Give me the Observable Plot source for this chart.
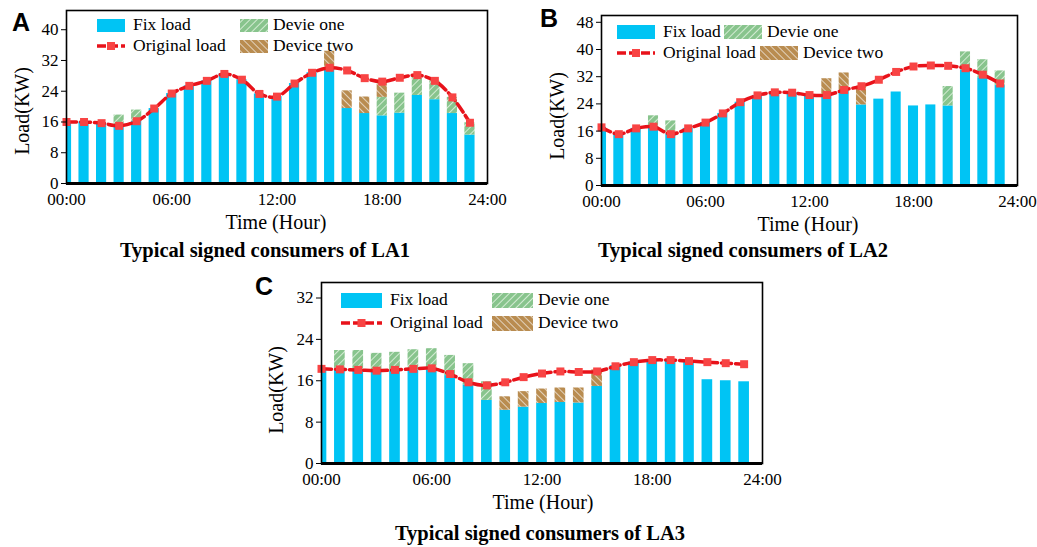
<!DOCTYPE html>
<html><head><meta charset="utf-8">
<script src="https://cdn.jsdelivr.net/npm/d3@7"></script>
<script src="https://cdn.jsdelivr.net/npm/@observablehq/plot@0.6"></script>
<style>
body{margin:0;background:#fff;}
#root{position:relative;width:1037px;height:547px;font-family:"Liberation Serif","Times New Roman",serif;color:#000;overflow:hidden;}
.abs{position:absolute;white-space:nowrap;line-height:1;}
.letter{font-family:"Liberation Sans",Arial,sans-serif;font-weight:bold;font-size:25px;}
.title{font-weight:bold;font-size:20.5px;transform:translate(-50%,-50%);}
.axlab{font-size:20px;transform:translate(-50%,-50%);}
.ylab{font-size:20px;transform:translate(-50%,-50%) rotate(-90deg);}
.legtext{font-size:17.5px;transform:translateY(-50%);}
.plot{position:absolute;overflow:visible;}
</style></head><body>
<svg width="0" height="0" style="position:absolute">
<defs>
<pattern id="hatchGreen" patternUnits="userSpaceOnUse" width="5" height="5" patternTransform="rotate(45)">
<rect width="5" height="5" fill="#88c48d"/>
<line x1="2.5" y1="0" x2="2.5" y2="5" stroke="#d4ecd4" stroke-width="1"/>
</pattern>
<pattern id="hatchBrown" patternUnits="userSpaceOnUse" width="5" height="5" patternTransform="rotate(-45)">
<rect width="5" height="5" fill="#b98c50"/>
<line x1="2.5" y1="0" x2="2.5" y2="5" stroke="#e2d2bc" stroke-width="1"/>
</pattern>
</defs>
</svg>
<div id="root"></div>
<script>
// ---------- data ----------
const hours = [0,1,2,3,4,5,6,7,8,9,10,11,12,13,14,15,16,17,18,19,20,21,22,23];
const xTickValues = [0,6,12,18,24];
const xTickLabels = ["00:00","06:00","12:00","18:00","24:00"];

// LA1
const fixA  = [16.0,16.0,15.7,15.0,16.2,19.5,23.4,25.4,26.7,28.5,27.0,23.3,22.6,26.0,28.8,30.0,19.5,18.2,17.6,18.3,22.9,21.8,18.2,12.6];
const dev1A = [0,0,0,2.8,2.9,0,0,0,0,0,0,0,0,0,0,0,0,0,4.8,5.2,5.3,4.9,4.2,3.2];
const dev2A = [0,0,0,0,0,0,0,0,0,0,0,0,0,0,0,4.4,4.6,4.3,4.1,0,0,0,0,0];
const origA = [16.0,16.0,15.7,15.0,16.2,19.5,23.4,25.4,26.7,28.5,27.0,23.3,22.6,26.0,28.8,30.1,29.4,27.4,26.5,27.5,28.2,26.7,22.4,15.8];
const yTicksA = [0,8,16,24,32,40];

// LA2
const fixB  = [17.1,15.1,16.8,17.3,15.1,16.8,18.5,21.2,24.5,26.5,27.4,27.3,26.6,26.4,27.9,23.7,25.4,27.5,23.4,23.7,23.4,34.0,31.7,29.4];
const dev1B = [0,0,0,3.2,3.9,0,0,0,0,0,0,0,0,0,0,0,0,0,0,0,5.7,5.3,5.3,4.3];
const dev2B = [0,0,0,0,0,0,0,0,0,0,0,0,0,5.0,5.2,5.5,0,0,0,0,0,0,0,0];
const origB = [17.1,15.1,16.8,17.3,15.1,16.8,18.5,21.2,24.5,26.5,27.4,27.3,26.6,26.6,28.1,29.2,31.1,33.4,35.0,35.3,35.2,34.5,32.6,30.0];
const yTicksB = [0,8,16,24,32,40,48];

// LA3
const fixC  = [18.3,18.0,18.0,17.7,17.9,18.1,18.1,17.0,15.2,12.2,10.3,10.9,11.6,11.8,11.7,14.9,18.9,19.6,20.1,20.0,19.8,16.2,16.0,15.8];
const dev1C = [0,3.85,3.85,3.6,3.6,3.9,4.1,3.9,4.1,3.6,0,0,0,0,0,0,0,0,0,0,0,0,0,0];
const dev2C = [0,0,0,0,0,0,0,0,0,0,2.6,3.0,2.8,2.8,2.9,3.2,0,0,0,0,0,0,0,0];
const origC = [18.3,18.2,18.1,17.95,18.1,18.3,18.4,17.3,15.7,15.1,15.7,16.7,17.4,17.8,17.7,17.8,18.8,19.6,20.0,20.0,19.8,19.6,19.4,19.2];
const yTicksC = [0,8,16,24,32];

const legendLabels = ["Fix load","Original load","Devie one","Device two"];
const titles = ["Typical signed consumers of LA1","Typical signed consumers of LA2","Typical signed consumers of LA3"];

// ---------- style ----------
const CYAN = "#00c4f4", RED = "#e8121a", MARK = "#f84444";
const root = document.getElementById("root");

function addText(cls, text, left, top) {
  const d = document.createElement("div");
  d.className = "abs " + cls;
  d.textContent = text;
  d.style.left = left + "px";
  d.style.top = top + "px";
  root.appendChild(d);
  return d;
}
function addSwatch(left, top, w, h, fill) {
  const s = document.createElementNS("http://www.w3.org/2000/svg","svg");
  s.setAttribute("width", w); s.setAttribute("height", h);
  s.style.position = "absolute"; s.style.left = left + "px"; s.style.top = top + "px";
  s.innerHTML = `<rect width="${w}" height="${h}" fill="${fill}"/>`;
  root.appendChild(s);
}
function addLineSwatch(left, cy, w) {
  const s = document.createElementNS("http://www.w3.org/2000/svg","svg");
  s.setAttribute("width", w); s.setAttribute("height", 12);
  s.style.position = "absolute"; s.style.left = left + "px"; s.style.top = (cy - 6) + "px";
  s.innerHTML = `<line x1="0" y1="6" x2="${w}" y2="6" stroke="${RED}" stroke-width="3.5" stroke-dasharray="9,3"/>` +
    `<rect x="${w/2-4}" y="2" width="8" height="8" fill="${MARK}"/>`;
  root.appendChild(s);
}

function panel(cfg) {
  const rows = hours.map((h, i) => ({h, fix: cfg.fix[i], d1: cfg.d1[i], d2: cfg.d2[i], orig: cfg.orig[i]}));
  const hw = 0.29;
  const svg = Plot.plot({
    width: cfg.width, height: cfg.height,
    marginLeft: cfg.ml, marginRight: cfg.mr, marginTop: cfg.mt, marginBottom: cfg.mb,
    style: {fontFamily: '"Liberation Serif","Times New Roman",serif', fontSize: "17px", color: "#000", background: "transparent", overflow: "visible"},
    x: {domain: [0, 24]},
    y: {domain: [0, cfg.ymax]},
    marks: [
      Plot.rect(rows, {x1: d => d.h - hw, x2: d => d.h + hw, y1: 0, y2: "fix", fill: CYAN, clip: true}),
      Plot.rect(rows.filter(d => d.d1 > 0), {x1: d => d.h - hw, x2: d => d.h + hw, y1: "fix", y2: d => d.fix + d.d1, fill: "url(#hatchGreen)", clip: true}),
      Plot.rect(rows.filter(d => d.d2 > 0), {x1: d => d.h - hw, x2: d => d.h + hw, y1: d => d.fix + d.d1, y2: d => d.fix + d.d1 + d.d2, fill: "url(#hatchBrown)", clip: true}),
      Plot.line(rows, {x: "h", y: "orig", stroke: RED, strokeWidth: 3.5, strokeDasharray: "10,4", curve: "catmull-rom"}),
      Plot.dot(rows, {x: "h", y: "orig", symbol: "square", r: 4.5, fill: MARK, stroke: "none"}),
      Plot.frame({stroke: "#000", strokeWidth: 1.6}),
      Plot.ruleY([0], {stroke: "#000", strokeWidth: 3}),
      Plot.axisY({ticks: cfg.yticks, tickSize: 5, tickPadding: 3, label: null, fontSize: 17}),
      Plot.axisX({ticks: xTickValues, tickFormat: d => xTickLabels[xTickValues.indexOf(d)], tickSize: 0, tickPadding: 9, label: null, fontSize: 17})
    ]
  });
  svg.classList.add("plot");
  svg.style.left = cfg.left + "px";
  svg.style.top = cfg.top + "px";
  root.appendChild(svg);
}

// Panel A
panel({fix: fixA, d1: dev1A, d2: dev2A, orig: origA, ymax: 45, yticks: yTicksA,
  left: 0, top: 0, width: 500, height: 240, ml: 66, mr: 13, mt: 10, mb: 57});
// Panel B
panel({fix: fixB, d1: dev1B, d2: dev2B, orig: origB, ymax: 50, yticks: yTicksB,
  left: 540, top: 0, width: 497, height: 240, ml: 61, mr: 20, mt: 15, mb: 55});
// Panel C
panel({fix: fixC, d1: dev1C, d2: dev2C, orig: origC, ymax: 35, yticks: yTicksC,
  left: 260, top: 270, width: 520, height: 230, ml: 61, mr: 18, mt: 12, mb: 37});

// Panel letters
addText("letter", "A", 12, 10);
addText("letter", "B", 540, 6);
addText("letter", "C", 255, 274);

// Axis titles
addText("axlab", "Time (Hour)", 276, 222);
addText("axlab", "Time (Hour)", 808, 224);
addText("axlab", "Time (Hour)", 543, 502);
addText("ylab", "Load(KW)", 22, 111);
addText("ylab", "Load(KW)", 557, 116);
addText("ylab", "Load(KW)", 276, 390);

// Titles
addText("title", titles[0], 265, 250);
addText("title", titles[1], 743, 250);
addText("title", titles[2], 540, 533);

// Legends
function legend(p) {
  addSwatch(p.x1, p.r1 - p.sh/2, p.sw, p.sh, CYAN);
  addText("legtext", legendLabels[0], p.x1 + p.sw + 8, p.r1);
  addLineSwatch(p.x1, p.r2, p.sw);
  addText("legtext", legendLabels[1], p.x1 + p.sw + 8, p.r2);
  addSwatch(p.x2a, p.r1 - p.sh/2, p.sw, p.sh, "url(#hatchGreen)");
  addText("legtext", legendLabels[2], p.x2a + p.sw + 5, p.r1);
  addSwatch(p.x2b, p.r2 - p.sh/2, p.sw, p.sh, "url(#hatchBrown)");
  addText("legtext", legendLabels[3], p.x2b + p.sw + 5, p.r2);
}
legend({x1: 97, sw: 28, sh: 13, r1: 25, r2: 46, x2a: 240, x2b: 240});
legend({x1: 617, sw: 38, sh: 14, r1: 32, r2: 53, x2a: 724, x2b: 760});
legend({x1: 341, sw: 41, sh: 15, r1: 300, r2: 323, x2a: 492, x2b: 492});
</script>
</body></html>
